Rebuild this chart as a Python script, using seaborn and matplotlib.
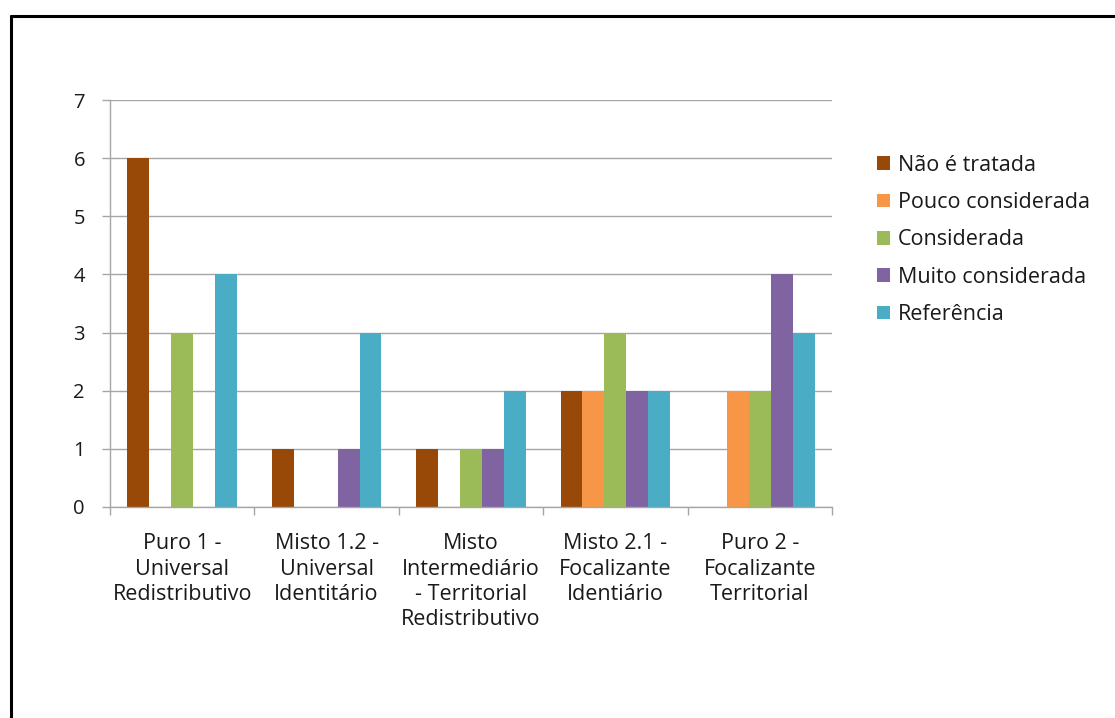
import matplotlib
matplotlib.use("Agg")
import matplotlib.pyplot as plt
import matplotlib.lines as mlines
import matplotlib.patches as mpatches
import seaborn as sns
import pandas as pd
import numpy as np

categories = [
    "Puro 1 -\nUniversal\nRedistributivo",
    "Misto 1.2 -\nUniversal\nIdentitário",
    "Misto\nIntermediário\n- Territorial\nRedistributivo",
    "Misto 2.1 -\nFocalizante\nIdentiário",
    "Puro 2 -\nFocalizante\nTerritorial",
]
series_names = ["Não é tratada", "Pouco considerada", "Considerada",
                "Muito considerada", "Referência"]
nao_tratada = [6, 1, 1, 2, 0]
pouco_considerada = [0, 0, 0, 2, 2]
considerada = [3, 0, 1, 3, 2]
muito_considerada = [0, 1, 1, 2, 4]
referencia = [4, 3, 2, 2, 3]
colors = ["#984807", "#F79646", "#9BBB59", "#8064A2", "#4BACC6"]
y_ticks = [0, 1, 2, 3, 4, 5, 6, 7]

series_values = [nao_tratada, pouco_considerada, considerada,
                 muito_considerada, referencia]
rows = []
for name, vals in zip(series_names, series_values):
    for cat, v in zip(categories, vals):
        rows.append({"categoria": cat, "serie": name, "valor": v})
df = pd.DataFrame(rows)

sns.set_theme(style="white")
plt.rcParams["font.family"] = ["Open Sans", "DejaVu Sans"]

fig = plt.figure(figsize=(11.15, 7.18), dpi=100)
ax = fig.add_axes([110 / 1115, 1 - 507 / 718, (832 - 110) / 1115, (507 - 100) / 718])

sns.barplot(data=df, x="categoria", y="valor", hue="serie",
            hue_order=series_names, order=categories, palette=colors,
            width=0.76, saturation=1, ax=ax, legend=False, linewidth=0,
            errorbar=None)

grid_color = "#A6A6A6"
text_color = "#1a1a1a"
fs = 15.5
ax.set_ylim(0, 7)
ax.set_xlim(-0.5, len(categories) - 0.5)
ax.set_yticks(y_ticks)
ax.set_yticklabels([str(t) for t in y_ticks])
ax.yaxis.grid(True, color=grid_color, linewidth=1.0)
ax.set_axisbelow(True)
ax.set_xlabel("")
ax.set_ylabel("")

for side in ["top", "right"]:
    ax.spines[side].set_visible(False)
for side in ["left", "bottom"]:
    ax.spines[side].set_color(grid_color)
    ax.spines[side].set_linewidth(1.0)

ax.tick_params(axis="y", which="major", left=True, length=6, width=1.0,
               color=grid_color, labelsize=14.5, labelcolor=text_color, pad=12)
ax.set_xticks(np.arange(len(categories)))
ax.set_xticklabels(categories, linespacing=1.27)
ax.tick_params(axis="x", which="major", bottom=False, length=0,
               labelsize=fs, labelcolor=text_color, pad=19)
ax.set_xticks(np.arange(-0.5, len(categories)), minor=True)
ax.tick_params(axis="x", which="minor", bottom=True, length=6, width=1.0,
               color=grid_color)

handles = [mpatches.Patch(facecolor=c, edgecolor="none", label=n)
           for c, n in zip(colors, series_names)]
fig.legend(handles=handles, loc="upper left",
           bbox_to_anchor=(868 / 1115, 1 - 146 / 718), frameon=False,
           fontsize=fs, handlelength=0.6, handleheight=0.6,
           handletextpad=0.4, labelspacing=0.76, borderaxespad=0,
           labelcolor=text_color)

# frame drawn around the figure (top and left edges)
lw = 2.2
fig.add_artist(mlines.Line2D([11 / 1115, 1.0], [1 - 16 / 718, 1 - 16 / 718],
                             color="black", linewidth=lw,
                             transform=fig.transFigure))
fig.add_artist(mlines.Line2D([11 / 1115, 11 / 1115], [1 - 16 / 718, 0.0],
                             color="black", linewidth=lw,
                             transform=fig.transFigure))

fig.savefig("out.png", dpi=100)
